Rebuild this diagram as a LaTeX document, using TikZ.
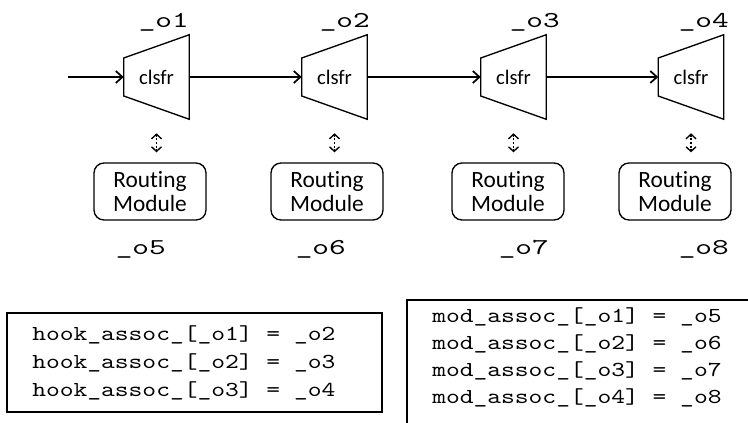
\documentclass[tikz,border=0pt]{standalone}
\usepackage{fontspec}
\setsansfont{Carlito}[Ligatures=NoCommon]
\newfontfamily\codefont{lmmono10-regular.otf}[FakeStretch=1.23]
\newfontfamily\tagfont{lmmono10-regular.otf}[FakeStretch=1.4]
\usetikzlibrary{arrows.meta,calc}

\begin{document}
\begin{tikzpicture}[x=0.75pt,y=-0.75pt,
  clf/.style={minimum width=48.75pt, minimum height=63pt, inner sep=0pt,
              font=\sffamily\fontsize{15.5}{18}\selectfont},
  rmod/.style={rectangle, rounded corners=7.5pt, draw, line width=1pt,
               minimum width=84pt, minimum height=42.75pt, inner sep=0pt,
               align=center, font=\sffamily\fontsize{17.5}{18}\selectfont},
  arr/.style={-{Straight Barb[length=5pt,width=9pt]}, line width=1.3pt},
  dbl/.style={{Straight Barb[length=3.5pt,width=7.5pt]}-{Straight Barb[length=3.5pt,width=7.5pt]},
              line width=1pt, dash pattern=on 1.5pt off 1.2pt},
  lbl/.style={font=\tagfont\fontsize{17}{20}\selectfont, inner sep=0pt},
  code/.style={font=\codefont\fontsize{16}{21}\selectfont, align=left, inner sep=0pt},
  frame/.style={line width=1pt},
]
  \useasboundingbox (0,0) rectangle (748,422); \clip (0,0) rectangle (748,422);
  % classifier chain
  \foreach \i/\x in {1/156.5,2/334.5,3/513.5,4/691}{
    \node[clf](c\i) at (\x,77){clsfr};
    \draw[line width=1pt](c\i.north east)--(c\i.south east)--([yshift=-14.25pt]c\i.west)
      --([yshift=14.25pt]c\i.west)--cycle;
  }
  \coordinate (in) at (68,77);
  \draw[arr](in)--(c1.west); \draw[arr](c1.east)--(c2.west);
  \draw[arr](c2.east)--(c3.west); \draw[arr](c3.east)--(c4.west);
  % routing modules
  \foreach \i/\x in {1/150,2/327,3/508,4/675}
    \node[rmod](r\i) at (\x,191.5){Routing\\Module};
  \foreach \i in {1,...,4}
    \draw[dbl, shorten <=10.5pt, shorten >=7.5pt](c\i.south)--(c\i.south |- r\i.north);
  % object labels
  \node[lbl,anchor=base east](o1) at (189,27){\_o1};
  \node[lbl,anchor=base east](o2) at (370,27){\_o2};
  \node[lbl,anchor=base east](o3) at (560,27){\_o3};
  \node[lbl,anchor=base east](o4) at (729,27){\_o4};
  \node[lbl,anchor=base east](o5) at (166,254){\_o5};
  \node[lbl,anchor=base east](o6) at (346,254){\_o6};
  \node[lbl,anchor=base east](o7) at (549,254){\_o7};
  \node[lbl,anchor=base east](o8) at (729,254){\_o8};
  % association tables (base = last line)
  \node[code,anchor=base west](hooks) at (32,396)
    {hook\_assoc\_[\_o1] = \_o2\\hook\_assoc\_[\_o2] = \_o3\\hook\_assoc\_[\_o3] = \_o4};
  \draw[frame](7,313) rectangle (382,412);
  \node[code,anchor=base west,font=\codefont\fontsize{16}{20.25}\selectfont](mods) at (432,403)
    {mod\_assoc\_[\_o1] = \_o5\\mod\_assoc\_[\_o2] = \_o6\\mod\_assoc\_[\_o3] = \_o7\\mod\_assoc\_[\_o4] = \_o8};
  \draw[frame](407,440) |- (760,300);
\end{tikzpicture}
\end{document}
